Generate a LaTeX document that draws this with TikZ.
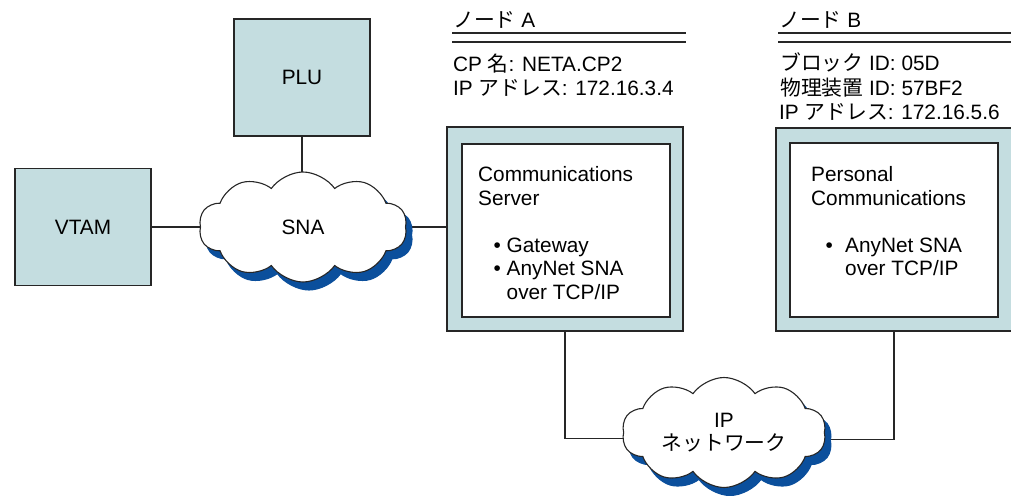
\documentclass[tikz,border=0pt]{standalone}
\usepackage{fontspec}
\setmainfont{Liberation Sans}
\newfontfamily\jp{Noto Sans CJK JP}
\usetikzlibrary{shapes.symbols,shadows}
\definecolor{boxfill}{HTML}{C4DDE0}
\definecolor{shblue}{HTML}{0B4F9C}
\definecolor{ink}{HTML}{262626}
\pgfdeclarelayer{bg}
\pgfsetlayers{bg,main}
\begin{document}
\begin{tikzpicture}[x=1pt,y=-1pt,
  font=\fontsize{20.8}{23.5}\selectfont,
  graybox/.style={draw=ink,line width=1.8pt,fill=boxfill,inner sep=0pt},
  panel/.style={draw=ink,line width=1.2pt,fill=white,inner sep=0pt},
  netcloud/.style={cloud,cloud puffs=10,cloud puff arc=110,cloud ignores aspect,
     draw=ink,line width=1.1pt,fill=white,inner sep=0pt,align=center,
     copy shadow={shadow xshift=6pt,shadow yshift=-8pt,fill=shblue,draw=shblue}},
  conn/.style={draw=ink,line width=1.8pt},
  dblrule/.style={draw=ink,line width=2pt},
  lbl/.style={inner sep=0pt,anchor=base west},
  blk/.style={inner sep=0pt,anchor=north west,align=left},
]
\useasboundingbox (0,0) rectangle (1011,495);

% left part
\node[graybox,minimum width=136pt,minimum height=117pt] (plu) at (302,77.5) {PLU};
\node[graybox,minimum width=136pt,minimum height=117pt] (vtam) at (83,227) {VTAM};
\node[netcloud,minimum width=208pt,minimum height=110pt] (sna) at (303,227) {SNA};

% node A
\node[lbl] (hA) at (453,28) {{\jp ノード} A};
\draw[dblrule] (452,33.5) -- (686,33.5);
\draw[dblrule] (452,42.5) -- (686,42.5);
\node[lbl] (a1) at (453,71) {CP {\jp 名}: NETA.CP2};
\node[lbl] (a2) at (453,95.5) {IP {\jp アドレス}: 172.16.3.4};

\node[graybox,minimum width=236pt,minimum height=204pt] (cs) at (565,229) {};
\node[panel,minimum width=208pt,minimum height=173pt] (csp) at (566,230.5) {};
\node[blk] (cst) at (478,166.5) {Communications\\Server\\[23.5pt]%
  \hspace*{28.5pt}\llap{\textbullet\ }Gateway\\
  \hspace*{28.5pt}\llap{\textbullet\ }AnyNet SNA\\
  \hspace*{28.5pt}over TCP/IP};

% node B
\node[lbl] (hB) at (779,28) {{\jp ノード} B};
\draw[dblrule] (778,33.5) -- (1011,33.5);
\draw[dblrule] (778,42.5) -- (1011,42.5);
\node[lbl] (b1) at (780,70.5) {{\jp ブロック} ID: 05D};
\node[lbl] (b2) at (780,95) {{\jp 物理装置} ID: 57BF2};
\node[lbl] (b3) at (779,119.5) {IP {\jp アドレス}: 172.16.5.6};

\node[graybox,minimum width=236pt,minimum height=203pt] (pc) at (894,229.5) {};
\node[panel,minimum width=208pt,minimum height=174pt] (pcp) at (894,230) {};
\node[blk] (pct) at (811,166.5) {Personal\\Communications\\[23.5pt]%
  \hspace*{34pt}\llap{\textbullet\hspace{12.4pt}}AnyNet SNA\\
  \hspace*{34pt}over TCP/IP};

% IP network
\node[netcloud,minimum width=204pt,minimum height=110pt] (ip) at (724,432.5) {IP\\{\jp ネットワーク}};

\begin{pgfonlayer}{bg}
  \draw[conn] (plu) -- (plu |- sna);
  \draw[conn] (vtam) -- (sna);
  \draw[conn] (sna) -- (sna -| cs.west);
  \draw[conn] (cs.south) |- ([yshift=-6pt]ip.center);
  \draw[conn] (pc.south) |- ([yshift=-7pt]ip.center);
\end{pgfonlayer}
\end{tikzpicture}
\end{document}
